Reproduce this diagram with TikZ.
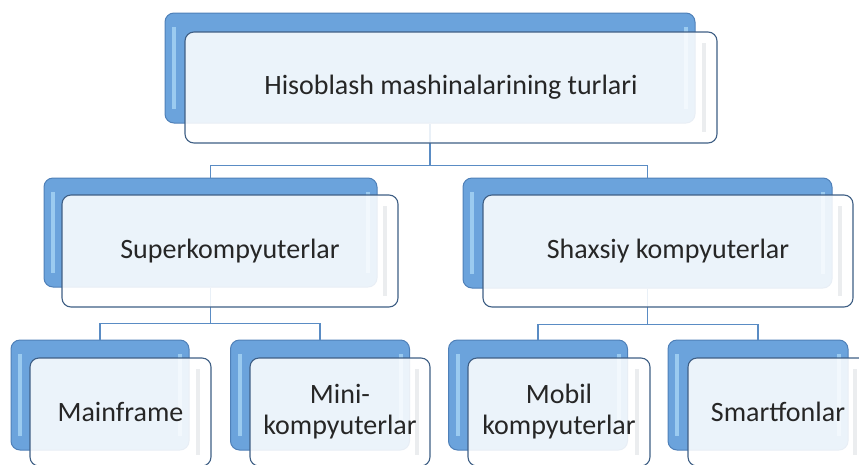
\documentclass[tikz,border=0pt]{standalone}
\usepackage{fontspec}
\setmainfont{Carlito}
\definecolor{bkfill}{HTML}{6BA3DC}
\definecolor{bkline}{HTML}{4F80B8}
\definecolor{bevel}{HTML}{A8D6F6}
\definecolor{frline}{HTML}{3F5F85}
\definecolor{cn}{HTML}{5A8CC4}
\definecolor{txt}{HTML}{262626}
\definecolor{inset}{HTML}{D4D8DD}
\begin{document}
\begin{tikzpicture}[x=1pt,y=-1pt,
  backbox/.style={draw=bkline, line width=1pt, fill=bkfill, rounded corners=9pt, inner sep=0pt,
    path picture={
      \fill[bevel, sharp corners, fill opacity=0.8] ([xshift=7pt,yshift=-14pt]path picture bounding box.north west) rectangle ([xshift=11pt,yshift=14pt]path picture bounding box.south west);
      \fill[bevel, sharp corners, fill opacity=0.8] ([xshift=-11pt,yshift=-14pt]path picture bounding box.north east) rectangle ([xshift=-7pt,yshift=14pt]path picture bounding box.south east);
    }},
  frontbox/.style={draw=frline, line width=1.1pt, fill=white, fill opacity=0.87, text opacity=1, draw opacity=1,
    rounded corners=9pt, align=center, font=\fontsize{28}{31}\selectfont, text=txt, inner sep=0pt,
    path picture={
      \fill[inset, sharp corners, fill opacity=0.45] ([xshift=-15pt,yshift=-11pt]path picture bounding box.north east) rectangle ([xshift=-11pt,yshift=11pt]path picture bounding box.south east);
    }},
  conn/.style={draw=cn, line width=1.7pt}]
\useasboundingbox (0,0) rectangle (859,464);
\clip (0,0) rectangle (859,464);
% back boxes
\node[backbox, minimum width=530pt, minimum height=110pt] (tb) at (430,68) {};
\node[backbox, minimum width=333pt, minimum height=109pt] (lb) at (210.5,232.5) {};
\node[backbox, minimum width=369pt, minimum height=110pt] (rb) at (647.5,233) {};
\node[backbox, minimum width=178pt, minimum height=110pt] (b1) at (100,395) {};
\node[backbox, minimum width=179pt, minimum height=110pt] (b2) at (320,395) {};
\node[backbox, minimum width=179pt, minimum height=110pt] (b3) at (538,395) {};
\node[backbox, minimum width=180pt, minimum height=110pt] (b4) at (758,395) {};
% connectors
\draw[conn] (tb.south) -- ++(0,42) coordinate (h1) -| (lb.north);
\draw[conn] (h1) -| (rb.north);
\draw[conn] (lb.south) -- ++(0,36) coordinate (h2) -| (b1.north);
\draw[conn] (h2) -| (b2.north);
\draw[conn] (rb.south) -- ++(0,36) coordinate (h3) -| (b3.north);
\draw[conn] (h3) -| (b4.north);
% front boxes
\node[frontbox, minimum width=532pt, minimum height=111pt] (tf) at (451,87.5) {Hisoblash mashinalarining turlari};
\node[frontbox, minimum width=336pt, minimum height=112pt] (lf) at (230,251) {Superkompyuterlar};
\node[frontbox, minimum width=370pt, minimum height=112pt] (rf) at (668,251) {Shaxsiy kompyuterlar};
\node[frontbox, minimum width=181pt, minimum height=108pt] (f1) at (120.5,412) {Mainframe};
\node[frontbox, minimum width=180pt, minimum height=108pt] (f2) at (340,412) {Mini-\\kompyuterlar};
\node[frontbox, minimum width=182pt, minimum height=108pt] (f3) at (559,412) {Mobil\\kompyuterlar};
\node[frontbox, minimum width=180pt, minimum height=108pt] (f4) at (778,412) {Smartfonlar};
\end{tikzpicture}
\end{document}
